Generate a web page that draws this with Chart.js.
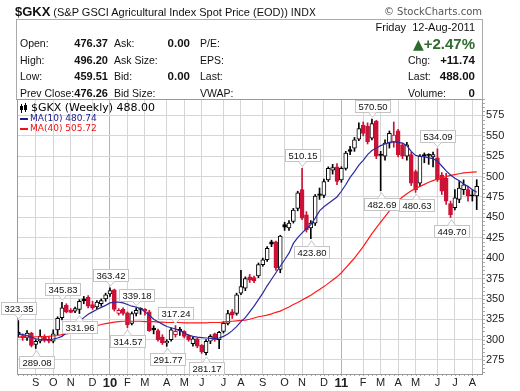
<!DOCTYPE html>
<html>
<head>
<meta charset="utf-8">
<script src="https://cdn.jsdelivr.net/npm/chart.js@4.4.0/dist/chart.umd.min.js"></script>
<style>
  body { margin: 0; width: 520px; height: 391px; overflow: hidden; position: relative; background: #fff;
         font-family: "Liberation Sans", Arial, sans-serif; color: #111; }
  #chart { position: absolute; left: 0; top: 0; }
  .t { position: absolute; white-space: nowrap; font-size: 10.5px; line-height: 13px; }
  .v { position: absolute; white-space: nowrap; font-size: 11.5px; line-height: 13px; font-weight: bold; text-align: right; }
  .lv { font-size: 11px; }
  #box { position: absolute; left: 16px; top: 19px; width: 467px; height: 81px; border: 1px solid #aaa;
         border-bottom: none; box-sizing: border-box; }
</style>
</head>
<body>
<canvas id="chart" width="520" height="391"></canvas>

<div class="t" style="left:15px;top:5px"><b style="font-size:13px">$GKX</b> <span style="font-size:11px">(S&amp;P GSCI Agricultural Index Spot Price (EOD))</span> <span style="font:10px 'DejaVu Sans'">INDX</span></div>
<div class="t" style="right:38px;top:6px;font:10px 'DejaVu Sans';color:#555">© StockCharts.com</div>

<div id="box"></div>
<div class="t" style="left:20px;top:37px">Open:</div>
<div class="t" style="left:20px;top:54px">High:</div>
<div class="t" style="left:20px;top:70px">Low:</div>
<div class="t" style="left:20px;top:87px">Prev Close:</div>
<div class="v lv" style="right:412px;top:37px">476.37</div>
<div class="v lv" style="right:412px;top:54px">496.20</div>
<div class="v lv" style="right:412px;top:70px">459.51</div>
<div class="v lv" style="right:412px;top:87px">476.26</div>
<div class="t" style="left:114px;top:37px">Ask:</div>
<div class="t" style="left:114px;top:54px">Ask Size:</div>
<div class="t" style="left:114px;top:70px">Bid:</div>
<div class="t" style="left:114px;top:87px">Bid Size:</div>
<div class="v" style="right:330px;top:37px">0.00</div>
<div class="v" style="right:330px;top:70px">0.00</div>
<div class="t" style="left:200px;top:37px">P/E:</div>
<div class="t" style="left:200px;top:54px">EPS:</div>
<div class="t" style="left:200px;top:70px">Last:</div>
<div class="t" style="left:200px;top:87px">VWAP:</div>

<div class="t" style="right:45px;top:21px;font-size:11px">Friday&nbsp; 12-Aug-2011</div>
<div class="v" style="right:45px;top:36px;font-size:15px;line-height:16px;color:#2e6b2e"><span style="font:14px 'DejaVu Sans'">▲</span>+2.47%</div>
<div class="t" style="left:408px;top:54px">Chg:</div>
<div class="v" style="right:45px;top:54px">+11.74</div>
<div class="t" style="left:408px;top:70px">Last:</div>
<div class="v" style="right:45px;top:70px">488.00</div>
<div class="t" style="left:408px;top:87px">Volume:</div>
<div class="v" style="right:45px;top:87px">0</div>

<script>
// weekly candles, Aug 2009 - Aug 2011
const opens = [309, 305, 302, 308, 294, 298, 304, 300, 298, 312, 327, 342, 336, 335, 337, 350, 352, 343, 340, 344,
  350, 356, 361, 332, 337, 333, 320, 332, 338, 337, 334, 314, 311, 303, 296, 300, 306, 313, 310, 305,
  295, 301, 293, 284, 298, 307, 300, 310, 320, 334, 332, 357, 363, 377, 376, 378, 392, 398, 420, 420,
  386, 441, 437, 445, 461, 484, 453, 437, 443, 479, 477, 496, 508, 512, 496, 510, 533, 535, 546, 563,
  562, 547, 568, 527, 525, 541, 542, 556, 539, 525, 527, 506, 492, 527, 527, 524, 523, 502, 498, 467,
  462, 472, 484, 484, 477.5, 476.37];
const highs = [323.35, 307, 311, 309, 300, 312, 306, 303, 312, 328, 345.83, 344, 338, 340, 349, 353, 354, 347, 348, 350,
  357, 363.42, 362, 338, 339, 334, 334, 339.18, 339, 338, 336, 317, 313, 306, 300, 314, 317.24, 315, 311, 306,
  303, 302, 294, 300, 306, 308, 310, 322, 336, 337, 357, 385, 377, 380, 378, 394, 400, 414, 422, 421,
  428, 444, 446, 461, 482, 510.15, 457, 446, 478, 486, 497, 512, 515, 516, 512, 531, 537, 548, 566, 567,
  566, 570.50, 569, 531, 545, 556, 567, 558, 541, 542, 530, 508, 527, 529, 528, 530, 534.09, 505, 504, 470,
  484, 494, 496, 488, 483, 496.20];
const lows = [303, 299, 299, 291, 289.08, 296, 297, 296, 296, 306, 324, 333, 333, 333, 331.96, 344, 339, 337, 338, 341,
  347, 353, 335, 330, 330, 314.57, 318, 329, 331, 330, 310, 307, 298, 294, 291.77, 298, 303, 305, 302, 298,
  292, 290, 283, 281.17, 295, 298, 289, 308, 318, 326, 330, 355, 360, 370, 370, 376, 390, 396, 414, 385,
  382, 434, 434, 443, 458, 447, 432, 423.80, 440, 472, 474, 494, 503, 490, 493, 508, 527, 531, 544, 550,
  540, 545, 522, 482.69, 520, 535, 536, 524, 522, 520, 489, 480.63, 488, 517, 515, 512, 494, 478, 466, 449.70,
  459, 468, 478, 470, 470, 459.51];
const closes = [306, 302, 308, 293, 298, 304, 299, 298, 307, 326, 339, 334, 333.5, 338, 347, 347.5, 341, 339, 346, 348,
  355, 360, 337, 336, 332, 318, 332, 336, 337, 335, 311, 312, 300, 296, 298, 312, 310, 311, 304, 300,
  301, 292, 285, 298, 304, 300, 309, 320, 332, 330, 355, 365, 375, 373, 372, 392, 398, 412, 417, 388,
  427, 438, 443, 459, 480, 449, 435, 443, 476, 477, 494, 510, 511, 494, 510, 529, 531, 545, 559, 553,
  543, 565, 525, 526, 541, 553, 551, 527, 525, 539, 492, 484, 525, 525.5, 526, 527, 496, 482, 470, 453,
  474, 486, 490, 476, 476.26, 488.00];

// moving averages
const ma10 = [307, 306, 305, 303, 301, 300, 300, 300, 300.5, 302, 304, 308, 312, 317, 322, 327, 331, 334, 337, 339.5,
  342, 345, 346, 346, 345, 343, 341, 340, 338, 334, 330, 325, 322, 319, 316, 314.5, 313, 311, 308, 305.5,
  304, 303, 302.5, 302, 301.5, 301.5, 302, 304, 307, 311, 316, 322, 327, 334, 341, 349, 357, 366, 374, 382,
  390, 398, 406, 418, 425, 431, 436, 441, 449, 458, 463, 467, 471, 475, 482, 490, 499, 506, 514, 520,
  527, 532, 535, 538, 540, 542, 543, 542, 541, 538, 531, 526, 525, 524.5, 523, 522, 519, 513, 507, 502,
  498, 495, 491, 488, 484, 480.74];
const ma40 = [303, 303, 303, 303, 303.5, 303.5, 303.5, 304, 304.5, 305, 306, 307, 308, 309.5, 311, 312.5, 314, 315.5, 317, 318.5,
  319.5, 320.5, 321.5, 322, 322.5, 322.5, 322.5, 322.5, 322.5, 322, 322, 322, 321.5, 321.5, 321, 321, 321, 321, 320.5, 320.5,
  320.5, 320.5, 320.5, 320.5, 321, 321, 321, 321.5, 322, 322.5, 323, 323.5, 324, 325, 326.5, 328, 329, 330, 331.5, 333.5,
  335, 337.5, 340, 343, 345.5, 348.5, 351.5, 354.5, 358, 361.5, 365, 369, 373, 377, 382, 388, 394, 400, 407, 414,
  422, 430, 437, 444, 451, 458, 464, 470, 475, 479, 482.5, 485.5, 488, 490.5, 493, 495, 497, 498.5, 500, 501.5,
  502.5, 503.5, 504.5, 505, 505.5, 505.72];

// x axis: week index of each month line
const tickWeeks = [4, 8, 12, 17, 21, 25, 29, 34, 38, 42, 47, 51, 56, 61, 65, 70, 74, 79, 83, 87, 91, 96, 100, 104];
const tickLabels = ['S', 'O', 'N', 'D', '10', 'F', 'M', 'A', 'M', 'J', 'J', 'A', 'S', 'O', 'N', 'D', '11', 'F', 'M', 'A', 'M', 'J', 'J', 'A'];
const yTicks = [275, 300, 325, 350, 375, 400, 425, 450, 475, 500, 525, 550, 575];

// swing high / low labels
const calloutWeeks = [0, 4, 10, 14, 21, 25, 27, 34, 36, 43, 65, 67, 81, 83, 91, 96, 99];
const calloutValues = [323.35, 289.08, 345.83, 331.96, 363.42, 314.57, 339.18, 291.77, 317.24, 281.17, 510.15, 423.80, 570.50, 482.69, 480.63, 534.09, 449.70];
const calloutSides = ['high', 'low', 'high', 'low', 'high', 'low', 'high', 'low', 'high', 'low', 'high', 'low', 'high', 'low', 'low', 'high', 'low'];

const RED = '#cc1236';
const BLACK = '#000';
const isYear = v => { const k = tickWeeks.indexOf(v); return k >= 0 && tickLabels[k].length > 1; };

const candleColor = closes.map((c, i) => (i === 0 || c >= closes[i - 1]) ? BLACK : RED);
const bodyFill = closes.map((c, i) => c < opens[i] ? candleColor[i] : '#fff');

const overlay = {
  id: 'overlay',
  afterDraw(chart) {
    const { ctx, chartArea: a, scales: { x, y } } = chart;
    ctx.save();
    // small week / value ticks
    ctx.fillStyle = '#aaa';
    for (let i = 0; i < closes.length; i++) {
      ctx.fillRect(Math.round(x.getPixelForValue(i)), a.bottom, 1, 2);
    }
    for (let v = 260; v <= 595; v += 5) {
      ctx.fillRect(a.right, Math.round(y.getPixelForValue(v)), 2, 1);
    }
    // frame
    ctx.strokeStyle = '#999';
    ctx.lineWidth = 1;
    ctx.strokeRect(a.left + 0.5, a.top + 0.5, a.right - a.left - 1, a.bottom - a.top);

    // legend
    ctx.fillStyle = '#000';
    ctx.fillRect(21, 104, 1, 9); ctx.fillRect(20, 106, 3, 4);
    ctx.fillRect(25, 103, 1, 9); ctx.fillRect(24, 105, 3, 5);
    ctx.textBaseline = 'middle';
    ctx.textAlign = 'left';
    ctx.font = '11px "DejaVu Sans", sans-serif';
    ctx.fillText('$GKX (Weekly) 488.00', 31, 108);
    ctx.font = '9px "DejaVu Sans", sans-serif';
    ctx.fillStyle = '#1c1c8c';
    ctx.fillRect(20, 118, 8, 2);
    ctx.fillText('MA(10) 480.74', 30, 119);
    ctx.fillStyle = '#ee1111';
    ctx.fillRect(20, 128, 8, 2);
    ctx.fillText('MA(40) 505.72', 30, 129);

    // callouts
    ctx.font = '9.5px "Liberation Sans", Arial, sans-serif';
    ctx.textAlign = 'center';
    calloutWeeks.forEach((w, k) => {
      const v = calloutValues[k];
      const up = calloutSides[k] === 'high';
      const txt = v.toFixed(2);
      const px = Math.round(x.getPixelForValue(w)) + 0.5;
      const py = y.getPixelForValue(v);
      const bw = Math.ceil(ctx.measureText(txt).width) + 5;
      const bh = 12;
      let bx = Math.round(px - bw / 2);
      bx = Math.max(1, Math.min(bx, 518 - bw));
      const tip = up ? py - 2 : py + 2;
      const by = up ? Math.round(tip - 5 - bh) : Math.round(tip + 5);
      const edge = up ? by + bh + 0.5 : by + 0.5;
      ctx.fillStyle = '#fff';
      ctx.strokeStyle = '#c4c4c4';
      ctx.fillRect(bx + 0.5, by + 0.5, bw, bh);
      ctx.strokeRect(bx + 0.5, by + 0.5, bw, bh);
      ctx.beginPath();
      ctx.moveTo(px - 4, edge);
      ctx.lineTo(px, tip);
      ctx.lineTo(px + 4, edge);
      ctx.closePath();
      ctx.fill();
      ctx.beginPath();
      ctx.moveTo(px - 4, edge);
      ctx.lineTo(px, tip);
      ctx.lineTo(px + 4, edge);
      ctx.stroke();
      ctx.fillStyle = '#111';
      ctx.fillText(txt, bx + bw / 2 + 0.5, by + bh / 2 + 1);
    });
    ctx.restore();
  }
};

new Chart(document.getElementById('chart'), {
  type: 'bar',
  data: {
    datasets: [
      {
        type: 'line',
        data: ma10.map((v, i) => ({ x: i, y: v })),
        borderColor: '#2b2b9e',
        borderWidth: 1.2,
        pointRadius: 0,
        order: 0
      },
      {
        type: 'line',
        data: ma40.map((v, i) => ({ x: i, y: v })),
        borderColor: '#ff1a1a',
        borderWidth: 1.2,
        pointRadius: 0,
        order: 0
      },
      {
        data: opens.map((o, i) => ({ x: i, y: [Math.min(o, closes[i]), Math.max(o, closes[i])] })),
        backgroundColor: bodyFill,
        borderColor: candleColor,
        borderWidth: 1,
        borderSkipped: false,
        barThickness: 4,
        minBarLength: 1,
        grouped: false,
        order: 1
      },
      {
        data: lows.map((l, i) => ({ x: i, y: [l, highs[i]] })),
        backgroundColor: candleColor,
        barThickness: 1,
        grouped: false,
        order: 2
      }
    ]
  },
  options: {
    responsive: false,
    animation: false,
    devicePixelRatio: 1,
    layout: { padding: { left: 17, top: 99, right: 0, bottom: 0 } },
    plugins: { legend: { display: false }, tooltip: { enabled: false } },
    scales: {
      x: {
        type: 'linear',
        offset: false,
        min: -0.3,
        max: 106.44,
        afterBuildTicks: s => { s.ticks = tickWeeks.map(v => ({ value: v })); },
        afterFit: s => { s.height = 17; },
        border: { display: false },
        grid: {
          offset: false,
          drawTicks: false,
          color: c => (c.tick && isYear(c.tick.value)) ? '#b4b4b4' : '#d6d6d6'
        },
        ticks: {
          autoSkip: false,
          maxRotation: 0,
          padding: 2,
          color: '#222',
          callback: v => tickLabels[tickWeeks.indexOf(v)],
          font: c => (c.tick && isYear(c.tick.value))
            ? { family: '"Liberation Sans", Arial', size: 13, weight: 'bold' }
            : { family: '"Liberation Sans", Arial', size: 11 }
        }
      },
      y: {
        position: 'right',
        min: 257.8,
        max: 595.2,
        afterBuildTicks: s => { s.ticks = yTicks.map(v => ({ value: v })); },
        afterFit: s => { s.width = 37; },
        border: { display: false },
        grid: { drawTicks: false, color: '#d6d6d6' },
        ticks: { padding: 3, color: '#222', font: { family: '"Liberation Sans", Arial', size: 11 } }
      }
    }
  },
  plugins: [overlay]
});
</script>
</body>
</html>
